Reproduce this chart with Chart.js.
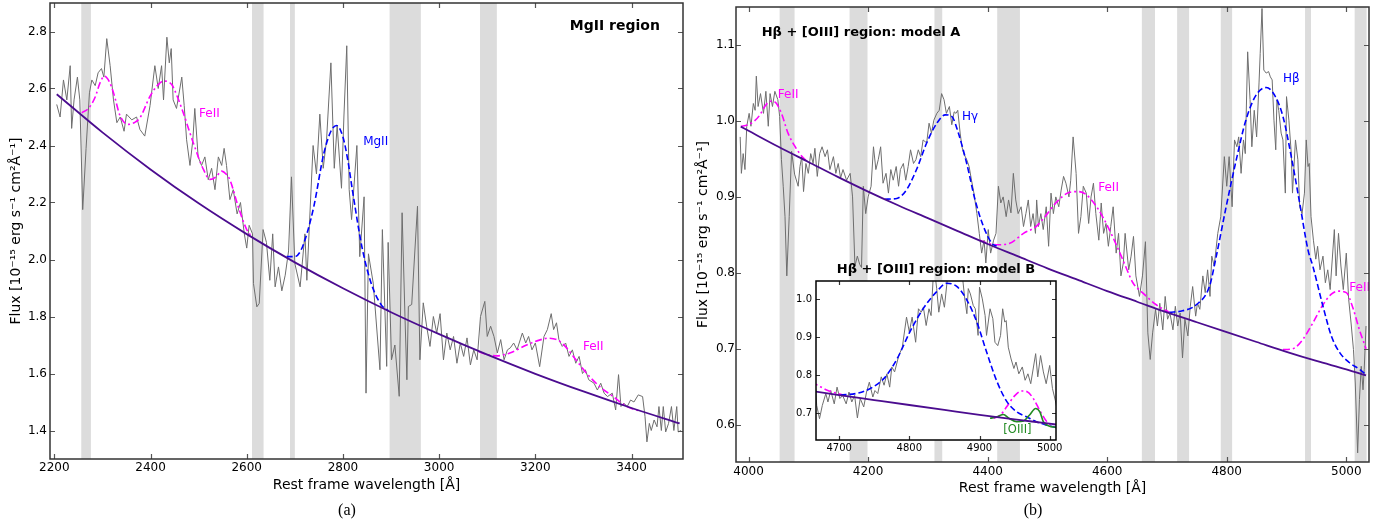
<!DOCTYPE html>
<html>
<head>
<meta charset="utf-8">
<script src="https://cdn.jsdelivr.net/npm/chart.js@4.4.1/dist/chart.umd.min.js"></script>
<style>
  body { margin: 0; background: #fff; }
  #wrap { position: relative; width: 1386px; height: 524px; overflow: hidden; }
  canvas { position: absolute; }
  .plab { position: absolute; top: 501px; width: 40px; text-align: center; font: 16px "Liberation Serif", serif; color: #000; }
</style>
</head>
<body>
<div id="wrap">
  <canvas id="chartA" width="700" height="524" style="left:0;top:0"></canvas>
  <canvas id="chartB" width="696" height="524" style="left:690px;top:0"></canvas>
  <canvas id="chartC" width="290" height="200" style="left:780px;top:255px"></canvas>
  <div class="plab" style="left:327px">(a)</div>
  <div class="plab" style="left:1013px">(b)</div>
</div>
<script>
// ---- panel (a): MgII region ----
const waveA = [2205,2212,2219,2226,2233,2236,2241,2248,2253,2259,2266,2273,2278,2285,2291,2298,2303,2309,2316,2323,2330,2337,2345,2350,2361,2371,2378,2388,2399,2409,2416,2423,2427,2434,2439,2443,2447,2454,2465,2470,2475,2482,2488,2492,2499,2506,2513,2520,2527,2534,2541,2548,2553,2558,2565,2572,2580,2587,2595,2600,2605,2612,2614,2621,2626,2634,2641,2648,2654,2659,2666,2673,2680,2687,2693,2700,2711,2721,2725,2738,2745,2752,2759,2766,2775,2782,2788,2797,2802,2808,2813,2818,2829,2835,2844,2848,2853,2863,2877,2882,2891,2894,2901,2908,2917,2923,2929,2933,2936,2943,2955,2960,2967,2974,2981,2988,2995,3002,3009,3016,3023,3030,3037,3044,3051,3058,3065,3072,3079,3086,3095,3100,3107,3114,3121,3128,3135,3142,3148,3155,3162,3173,3180,3186,3193,3200,3209,3218,3225,3233,3238,3244,3249,3256,3263,3270,3277,3284,3291,3298,3304,3311,3322,3329,3336,3343,3350,3360,3367,3373,3378,3384,3391,3398,3405,3414,3423,3428,3432,3437,3441,3447,3453,3457,3462,3466,3471,3477,3483,3488,3494,3497,3503];
const fluxA = [2.544,2.50,2.63,2.56,2.68,2.46,2.56,2.64,2.56,2.175,2.39,2.585,2.63,2.61,2.655,2.67,2.64,2.775,2.68,2.56,2.48,2.50,2.45,2.51,2.49,2.50,2.456,2.433,2.54,2.68,2.60,2.68,2.56,2.78,2.69,2.74,2.56,2.53,2.64,2.54,2.42,2.33,2.42,2.53,2.36,2.33,2.36,2.28,2.32,2.245,2.36,2.33,2.39,2.33,2.21,2.245,2.16,2.20,2.09,2.04,2.12,2.09,1.916,1.834,1.846,2.105,2.06,1.927,2.09,1.904,1.974,1.89,1.945,2.03,2.29,1.986,1.904,2.09,1.927,2.40,2.30,2.51,2.32,2.42,2.69,2.32,2.47,2.25,2.50,2.75,2.245,2.14,2.40,2.01,2.22,1.531,2.02,1.917,1.613,2.105,1.625,2.06,1.648,1.70,1.52,2.164,1.80,1.578,1.835,1.842,2.187,1.648,1.848,1.766,1.695,1.80,1.742,1.81,1.648,1.742,1.683,1.73,1.636,1.707,1.66,1.725,1.63,1.683,1.648,1.80,1.853,1.73,1.766,1.73,1.672,1.719,1.648,1.683,1.69,1.707,1.683,1.742,1.707,1.73,1.683,1.707,1.624,1.73,1.754,1.81,1.754,1.778,1.719,1.695,1.707,1.66,1.683,1.636,1.66,1.60,1.613,1.578,1.566,1.542,1.566,1.531,1.519,1.531,1.472,1.596,1.484,1.496,1.484,1.507,1.50,1.525,1.519,1.449,1.36,1.425,1.40,1.437,1.413,1.484,1.40,1.484,1.395,1.425,1.484,1.40,1.484,1.395,1.40];

const contWaveA = [2205,2300,2400,2500,2600,2700,2800,2900,3000,3100,3200,3300,3400,3500];
const contFluxA = [2.58,2.446,2.316,2.197,2.089,1.99,1.899,1.815,1.738,1.666,1.599,1.537,1.479,1.425];

const fe1WaveA = [2257,2271,2285,2295,2304,2314,2323,2337,2354,2366,2378,2399,2414,2427,2444,2456,2468,2489,2510,2524,2536,2548,2557,2565,2582,2600,2610];
const fe1FluxA = [2.515,2.53,2.57,2.62,2.643,2.625,2.585,2.503,2.474,2.48,2.497,2.573,2.61,2.626,2.614,2.57,2.515,2.409,2.316,2.281,2.29,2.31,2.30,2.28,2.187,2.105,2.082];

const fe2WaveA = [3082,3100,3120,3147,3182,3210,3227,3248,3265,3279,3307,3334,3362,3390,3414];
const fe2FluxA = [1.677,1.666,1.662,1.672,1.70,1.718,1.724,1.716,1.69,1.66,1.60,1.554,1.519,1.484,1.47];

const mgWaveA = [2683,2700,2712,2725,2740,2760,2775,2787,2800,2810,2820,2840,2860,2880,2895];
const mgFluxA = [2.01,2.01,2.03,2.09,2.19,2.37,2.45,2.47,2.43,2.35,2.24,2.04,1.91,1.84,1.82];

const bandsA = [[2256,2276],[2611,2635],[2690,2700],[2897,2962],[3085,3120]];
const xTicksA = [2200,2400,2600,2800,3000,3200,3400];
const yTicksA = [1.4,1.6,1.8,2.0,2.2,2.4,2.6,2.8];

// ---- panel (b): Hbeta + [OIII] region ----
const waveB = [3986,3988,3991,3994,3997,4001,4004,4008,4011,4013,4016,4020,4025,4029,4033,4036,4040,4044,4049,4052,4055,4058,4061,4064,4068,4072,4077,4083,4086,4089,4092,4096,4100,4104,4108,4111,4115,4119,4123,4128,4132,4136,4142,4146,4150,4154,4158,4164,4170,4174,4178,4182,4186,4189,4192,4196,4200,4205,4209,4213,4217,4221,4225,4230,4234,4238,4242,4247,4251,4254,4259,4263,4267,4271,4276,4280,4284,4288,4292,4298,4302,4306,4310,4315,4319,4323,4327,4331,4336,4340,4344,4347,4350,4354,4357,4360,4365,4369,4373,4377,4382,4386,4390,4394,4397,4401,4405,4410,4414,4418,4422,4426,4431,4435,4439,4443,4447,4451,4456,4460,4464,4468,4472,4476,4480,4482,4485,4489,4493,4498,4502,4506,4510,4514,4519,4523,4527,4531,4536,4539,4543,4548,4552,4556,4560,4565,4569,4573,4577,4581,4586,4590,4594,4598,4602,4606,4610,4615,4619,4623,4627,4630,4636,4640,4644,4648,4654,4659,4664,4668,4672,4676,4681,4684,4688,4693,4697,4701,4705,4710,4714,4718,4722,4726,4730,4735,4739,4743,4748,4751,4755,4760,4764,4768,4772,4775,4779,4785,4790,4796,4800,4804,4809,4813,4817,4820,4824,4828,4831,4835,4839,4842,4846,4850,4854,4856,4859,4862,4866,4870,4873,4876,4879,4882,4884,4887,4891,4894,4898,4900,4904,4908,4910,4915,4919,4922,4926,4930,4933,4936,4938,4941,4945,4949,4952,4956,4961,4965,4969,4973,4980,4983,4987,4991,4995,5000,5004,5008,5012,5015,5019,5022,5025,5028,5030,5033];
const fluxB = [0.979,0.931,0.957,0.936,0.993,1.01,0.993,1.023,1.014,1.059,1.019,1.036,1.01,1.039,0.993,1.036,1.019,1.039,1.028,1.006,0.949,0.914,0.874,0.796,0.874,0.96,0.93,0.914,0.94,0.953,0.907,0.944,0.931,0.957,0.944,0.964,0.927,0.957,0.966,0.953,0.962,0.936,0.953,0.931,0.944,0.925,0.936,0.922,0.931,0.90,0.809,0.822,0.811,0.807,0.914,0.878,0.90,0.914,0.966,0.936,0.949,0.966,0.918,0.931,0.905,0.936,0.922,0.94,0.914,0.936,0.944,0.922,0.94,0.962,0.944,0.949,0.962,0.953,0.975,0.971,0.997,0.984,1.001,1.01,1.014,1.036,1.028,1.01,1.019,0.995,1.012,1.01,1.014,0.984,0.966,0.957,0.949,0.94,0.922,0.905,0.878,0.852,0.826,0.843,0.813,0.857,0.826,0.843,0.852,0.914,0.892,0.90,0.874,0.896,0.879,0.931,0.896,0.878,0.887,0.861,0.878,0.896,0.861,0.878,0.852,0.896,0.861,0.878,0.857,0.887,0.835,0.905,0.878,0.90,0.887,0.909,0.927,0.918,0.90,0.922,0.979,0.931,0.852,0.874,0.914,0.905,0.865,0.90,0.918,0.878,0.843,0.892,0.852,0.865,0.835,0.861,0.887,0.826,0.852,0.796,0.813,0.852,0.804,0.822,0.848,0.796,0.769,0.796,0.841,0.721,0.686,0.721,0.752,0.73,0.76,0.725,0.769,0.739,0.747,0.725,0.756,0.73,0.747,0.688,0.739,0.717,0.756,0.782,0.743,0.76,0.752,0.796,0.774,0.804,0.769,0.822,0.809,0.852,0.874,0.953,0.914,0.953,0.887,0.975,0.966,0.979,0.931,0.975,0.957,1.091,1.028,0.966,1.014,0.979,1.05,1.089,1.148,1.067,1.063,1.065,1.058,1.054,1.001,0.962,1.028,1.014,0.984,0.975,0.905,1.032,1.001,0.957,0.905,0.975,0.949,0.887,0.878,0.905,0.975,0.94,0.944,0.874,0.843,0.818,0.835,0.804,0.822,0.787,0.804,0.778,0.857,0.796,0.852,0.809,0.778,0.826,0.765,0.734,0.699,0.655,0.563,0.633,0.677,0.646,0.673,0.73];

const contWaveB = [3987,4000,4050,4100,4150,4200,4250,4300,4350,4400,4450,4500,4550,4600,4650,4700,4750,4800,4850,4900,4950,5000,5033];
const contFluxB = [0.9925,0.987,0.966,0.946,0.926,0.907,0.889,0.872,0.855,0.838,0.822,0.806,0.791,0.776,0.762,0.748,0.735,0.722,0.709,0.696,0.684,0.673,0.665];

const fe1WaveB = [3987,3999,4010,4019,4028,4036,4044,4055,4066,4078,4092,4100];
const fe1FluxB = [0.9925,0.995,1.0,1.008,1.02,1.026,1.025,1.01,0.984,0.966,0.951,0.946];
const fe2WaveB = [4387,4400,4415,4437,4460,4481,4498,4514,4537,4551,4565,4584,4601,4618,4630,4643,4659,4682,4704];
const fe2FluxB = [0.843,0.839,0.837,0.839,0.852,0.861,0.876,0.892,0.906,0.907,0.903,0.885,0.861,0.832,0.81,0.787,0.774,0.758,0.748];
const fe3WaveB = [4894,4910,4927,4944,4961,4975,4986,5000,5011,5022,5033];
const fe3FluxB = [0.699,0.70,0.712,0.734,0.758,0.772,0.776,0.774,0.754,0.725,0.70];

const hgWaveB = [4228,4248,4264,4281,4298,4315,4329,4340,4351,4365,4379,4393,4407,4415];
const hgFluxB = [0.897,0.898,0.909,0.936,0.971,0.997,1.008,1.006,0.984,0.944,0.896,0.861,0.839,0.835];
const hbWaveB = [4704,4726,4749,4771,4782,4799,4816,4832,4849,4866,4880,4894,4908,4922,4936,4944,4961,4975,4989,5005,5022,5033];
const hbFluxB = [0.748,0.75,0.758,0.782,0.82,0.887,0.949,1.001,1.034,1.044,1.034,1.006,0.953,0.892,0.83,0.809,0.756,0.717,0.695,0.682,0.673,0.666];

const bandsB = [[4052,4077],[4169,4199],[4311,4324],[4416,4454],[4658,4680],[4717,4737],[4790,4809],[4931,4941],[5014,5034]];
const xTicksB = [4000,4200,4400,4600,4800,5000];
const yTicksB = [0.6,0.7,0.8,0.9,1.0,1.1];

// ---- inset: model B ----
const feLeftWaveC = [4660,4667,4683,4702,4712];
const feLeftFluxC = [0.782,0.776,0.761,0.75,0.746];
const hbWaveC = [4702,4726,4745,4764,4783,4801,4820,4839,4853,4868,4882,4896,4910,4925,4939,4953,4967,4981,4996,5009];
const hbFluxC = [0.748,0.753,0.766,0.792,0.845,0.915,0.976,1.02,1.042,1.033,0.998,0.941,0.862,0.783,0.731,0.704,0.691,0.678,0.669,0.663];
const feRightWaveC = [4920,4930,4939,4949,4960,4968,4977,4987,4996,5006];
const feRightFluxC = [0.687,0.696,0.718,0.744,0.759,0.757,0.738,0.704,0.678,0.665];
const o3WaveC = [4915,4925,4934,4942,4953,4963,4971,4980,4986,4991,4999,5009];
const o3FluxC = [0.687,0.691,0.697,0.687,0.678,0.68,0.695,0.713,0.704,0.678,0.667,0.663];
const xTicksC = [4700,4800,4900,5000];
const yTicksC = [0.7,0.8,0.9,1.0];

Chart.defaults.font.family = "'DejaVu Sans', sans-serif";

const pts = (xs, ys) => xs.map((x, i) => ({x: x, y: ys[i]}));

const MAGENTA = '#ff00ff', BLUE = '#0000ff', GREEN = '#228b22', CONT = '#4b0c8f', DATA = '#6e6e6e';

function dataSet(xs, ys) {
  return { data: pts(xs, ys), borderColor: DATA, borderWidth: 1, tension: 0 };
}
function contSet(xs, ys) {
  return { data: pts(xs, ys), borderColor: CONT, borderWidth: 1.8, cubicInterpolationMode: 'monotone' };
}
function feSet(xs, ys) {
  return { data: pts(xs, ys), borderColor: MAGENTA, borderWidth: 1.6, borderDash: [7, 3, 2, 3], cubicInterpolationMode: 'monotone' };
}
function lineSet(xs, ys, color) {
  return { data: pts(xs, ys), borderColor: color, borderWidth: 1.6, borderDash: [6, 3], cubicInterpolationMode: 'monotone' };
}

// grey masked bands, white inset background, inward ticks + frame, text labels
const panelPlugin = {
  id: 'panel',
  beforeDraw(chart, args, o) {
    if (!o.white) return;
    const a = chart.chartArea, ctx = chart.ctx;
    ctx.save();
    ctx.fillStyle = '#fff';
    ctx.fillRect(a.left, a.top, a.right - a.left, a.bottom - a.top);
    ctx.restore();
  },
  beforeDatasetsDraw(chart, args, o) {
    const a = chart.chartArea, ctx = chart.ctx, xs = chart.scales.x;
    ctx.save();
    ctx.fillStyle = '#dcdcdc';
    (o.bands || []).forEach(b => {
      const x1 = Math.max(a.left, xs.getPixelForValue(b[0]));
      const x2 = Math.min(a.right, xs.getPixelForValue(b[1]));
      if (x2 > x1) ctx.fillRect(x1, a.top, x2 - x1, a.bottom - a.top);
    });
    ctx.restore();
  },
  afterDatasetsDraw(chart, args, o) {
    const a = chart.chartArea, ctx = chart.ctx, xs = chart.scales.x, ys = chart.scales.y;
    ctx.save();
    ctx.beginPath();
    ctx.rect(a.left, a.top, a.right - a.left, a.bottom - a.top);
    ctx.clip();
    ctx.textBaseline = 'middle';
    (o.labels || []).forEach(l => {
      ctx.fillStyle = l.color;
      ctx.font = l.font;
      ctx.textAlign = l.align || 'left';
      ctx.fillText(l.text, xs.getPixelForValue(l.x), ys.getPixelForValue(l.y));
    });
    ctx.restore();
  },
  afterDraw(chart, args, o) {
    const a = chart.chartArea, ctx = chart.ctx, xs = chart.scales.x, ys = chart.scales.y;
    const len = o.tickLen;
    ctx.save();
    ctx.strokeStyle = o.tickColor;
    ctx.lineWidth = 1.2;
    ctx.beginPath();
    xs.ticks.forEach(t => {
      const p = Math.round(xs.getPixelForValue(t.value)) + 0.5;
      ctx.moveTo(p, a.bottom); ctx.lineTo(p, a.bottom - len);
      ctx.moveTo(p, a.top); ctx.lineTo(p, a.top + len);
    });
    ys.ticks.forEach(t => {
      const p = Math.round(ys.getPixelForValue(t.value)) + 0.5;
      ctx.moveTo(a.left, p); ctx.lineTo(a.left + len, p);
      ctx.moveTo(a.right, p); ctx.lineTo(a.right - len, p);
    });
    ctx.stroke();
    ctx.strokeStyle = o.frameColor;
    ctx.lineWidth = o.frameWidth;
    ctx.strokeRect(a.left, a.top, a.right - a.left, a.bottom - a.top);
    if (o.title) {
      ctx.fillStyle = '#000';
      ctx.font = 'bold 13px "DejaVu Sans"';
      ctx.textAlign = 'center';
      ctx.textBaseline = 'middle';
      ctx.fillText(o.title, (a.left + a.right) / 2, a.top - 11);
    }
    ctx.restore();
  }
};

function makeChart(id, c) {
  return new Chart(document.getElementById(id), {
    type: 'line',
    data: { datasets: c.datasets },
    options: {
      responsive: false,
      animation: false,
      devicePixelRatio: 1,
      layout: { padding: c.pad },
      elements: { point: { radius: 0 } },
      plugins: {
        legend: { display: false },
        tooltip: { enabled: false },
        panel: c.panel
      },
      scales: {
        x: {
          type: 'linear', min: c.xmin, max: c.xmax,
          grid: { display: false, drawTicks: false }, border: { display: false },
          ticks: { color: '#000', font: { size: c.tickSize }, padding: c.xTickPad, maxRotation: 0, autoSkip: false,
                   callback: v => String(v) },
          afterBuildTicks: s => { s.ticks = c.xticks.map(v => ({ value: v })); },
          afterFit: s => { s.height = c.xh; s.paddingLeft = 0; s.paddingRight = 0; },
          title: c.xtitle
        },
        y: {
          type: 'linear', min: c.ymin, max: c.ymax,
          grid: { display: false, drawTicks: false }, border: { display: false },
          ticks: { color: '#000', font: { size: c.tickSize }, padding: c.yTickPad, autoSkip: false,
                   callback: v => Number(v).toFixed(1) },
          afterBuildTicks: s => { s.ticks = c.yticks.map(v => ({ value: v })); },
          afterFit: s => { s.width = c.yw; s.paddingTop = 0; s.paddingBottom = 0; },
          title: c.ytitle
        }
      }
    },
    plugins: [panelPlugin]
  });
}

const lblFont = '12px "DejaVu Sans"';
const yTitleText = 'Flux [10⁻¹⁵ erg s⁻¹ cm²Å⁻¹]';
const xTitleText = 'Rest frame wavelength [Å]';

makeChart('chartA', {
  datasets: [
    contSet(contWaveA, contFluxA),
    lineSet(mgWaveA, mgFluxA, BLUE),
    feSet(fe1WaveA, fe1FluxA),
    feSet(fe2WaveA, fe2FluxA),
    dataSet(waveA, fluxA)
  ],
  pad: { left: 0, top: 3, right: 17, bottom: 0 },
  xmin: 2191, xmax: 3507, ymin: 1.30, ymax: 2.90,
  xticks: xTicksA, yticks: yTicksA,
  tickSize: 12, xTickPad: 2, yTickPad: 3, xh: 65, yw: 50,
  xtitle: { display: true, text: xTitleText, color: '#000', font: { size: 14 }, padding: { top: 0, bottom: 30 } },
  ytitle: { display: true, text: yTitleText, color: '#000', font: { size: 14 }, padding: { top: 8, bottom: 0 } },
  panel: {
    bands: bandsA, tickLen: 5, tickColor: '#555', frameColor: '#333', frameWidth: 1.5,
    labels: [
      { text: 'FeII', x: 2501, y: 2.512, color: MAGENTA, font: lblFont },
      { text: 'MgII', x: 2842, y: 2.414, color: BLUE, font: lblFont },
      { text: 'FeII', x: 3299, y: 1.694, color: MAGENTA, font: lblFont },
      { text: 'MgII region', x: 3459, y: 2.818, color: '#000', font: 'bold 14px "DejaVu Sans"', align: 'right' }
    ]
  }
});

makeChart('chartB', {
  datasets: [
    contSet(contWaveB, contFluxB),
    lineSet(hgWaveB, hgFluxB, BLUE),
    lineSet(hbWaveB, hbFluxB, BLUE),
    feSet(fe1WaveB, fe1FluxB),
    feSet(fe2WaveB, fe2FluxB),
    feSet(fe3WaveB, fe3FluxB),
    dataSet(waveB, fluxB)
  ],
  pad: { left: 0, top: 7, right: 17, bottom: 0 },
  xmin: 3979, xmax: 5038, ymin: 0.551, ymax: 1.15,
  xticks: xTicksB, yticks: yTicksB,
  tickSize: 12, xTickPad: 3, yTickPad: 1, xh: 62, yw: 46,
  xtitle: { display: true, text: xTitleText, color: '#000', font: { size: 14 }, padding: { top: 0, bottom: 27 } },
  ytitle: { display: true, text: yTitleText, color: '#000', font: { size: 14 }, padding: { top: 5, bottom: 0 } },
  panel: {
    bands: bandsB, tickLen: 5, tickColor: '#555', frameColor: '#333', frameWidth: 1.5,
    labels: [
      { text: 'FeII', x: 4049, y: 1.034, color: MAGENTA, font: lblFont },
      { text: 'Hγ', x: 4357, y: 1.005, color: BLUE, font: lblFont },
      { text: 'FeII', x: 4585, y: 0.912, color: MAGENTA, font: lblFont },
      { text: 'Hβ', x: 4894, y: 1.055, color: BLUE, font: lblFont },
      { text: 'FeII', x: 5005, y: 0.78, color: MAGENTA, font: lblFont },
      { text: 'Hβ + [OIII] region: model A', x: 4022, y: 1.116, color: '#000', font: 'bold 13px "DejaVu Sans"' }
    ]
  }
});

makeChart('chartC', {
  datasets: [
    contSet(contWaveB, contFluxB),
    { data: pts(o3WaveC, o3FluxC), borderColor: GREEN, borderWidth: 1.6, cubicInterpolationMode: 'monotone' },
    lineSet(hbWaveC, hbFluxC, BLUE),
    feSet(feLeftWaveC, feLeftFluxC),
    feSet(feRightWaveC, feRightFluxC),
    dataSet(waveB, fluxB)
  ],
  pad: { left: 0, top: 26, right: 14, bottom: 0 },
  xmin: 4667, xmax: 5009, ymin: 0.63, ymax: 1.048,
  xticks: xTicksC, yticks: yTicksC,
  tickSize: 10, xTickPad: 2, yTickPad: 4, xh: 15, yw: 36,
  xtitle: { display: false },
  ytitle: { display: false },
  panel: {
    white: true, tickLen: 4, tickColor: '#333', frameColor: '#000', frameWidth: 1.5,
    title: 'Hβ + [OIII] region: model B',
    labels: [
      { text: '[OIII]', x: 4934, y: 0.656, color: GREEN, font: '11.5px "DejaVu Sans"' }
    ]
  }
});
</script>
</body>
</html>
